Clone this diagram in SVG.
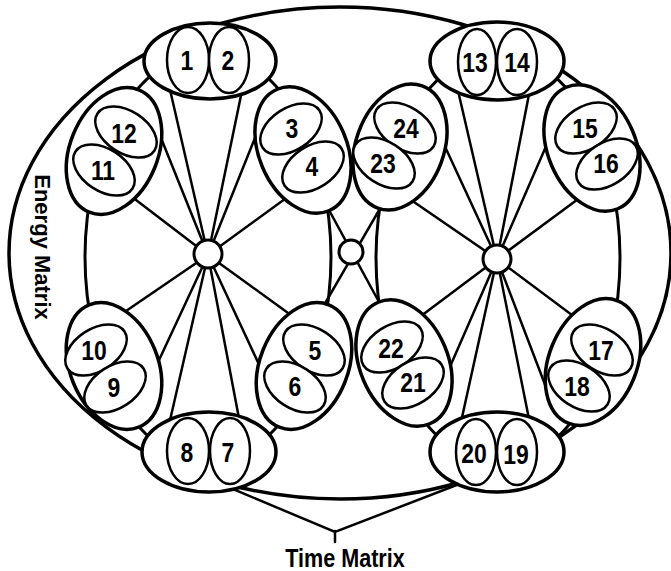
<svg xmlns="http://www.w3.org/2000/svg" width="671" height="571" viewBox="0 0 671 571">
<style>
.em{fill:none;stroke:#000;stroke-width:3.5}
.ring{fill:none;stroke:#000;stroke-width:3}
.sp{fill:none;stroke:#000;stroke-width:2.5;stroke-linecap:round}
.pod{fill:#fff;stroke:#000;stroke-width:3.5}
.in{fill:#fff;stroke:#000;stroke-width:2.5}
.hub{fill:#fff;stroke:#000;stroke-width:3}
.n{font-family:"Liberation Sans",Arial,sans-serif;font-weight:bold;font-size:27px;text-anchor:middle;fill:#000}
.lbl{font-family:"Liberation Sans",Arial,sans-serif;font-weight:bold;text-anchor:middle;fill:#000}
</style>
<rect width="671" height="571" fill="#fff"/>
<g id="energy-matrix">
<ellipse class="em" cx="340" cy="253" rx="331" ry="246"/>
<text class="lbl" font-size="22" transform="translate(35,247) rotate(90)">Energy Matrix</text>
</g>
<g id="connectors">
<ellipse class="ring" cx="208" cy="257" rx="123" ry="205"/>
<ellipse class="ring" cx="498" cy="258" rx="122" ry="205"/>
<path class="sp" d="M208,255L168,81M208,255L244,81M208,255L157,128M208,255L119,187M208,255L263,118M208,255L300,188M208,255L107,324M208,255L146,388M208,255L168,429M208,255L241,429M208,255L270,388M208,255L306,326"/>
<path class="sp" d="M497,259L456,82M497,259L531,84M497,259L435,125M497,259L395,189M497,259L554,128M497,259L593,188M497,259L409,325M497,259L442,385M497,259L459,431M497,259L531,429M497,259L549,395M497,259L588,327"/>
<path class="sp" d="M323,199L385,313M385,200L320,312"/>
<path class="sp" d="M221,484L335,532L467,481M335,531L335,542"/>
</g>
<g id="pod-1-2">
<ellipse class="pod" cx="210" cy="61" rx="66" ry="38"/>
<ellipse class="in" cx="188" cy="60" rx="21" ry="33"/>
<ellipse class="in" cx="229" cy="60" rx="20" ry="33"/>
<text class="n" transform="translate(187,70) scale(0.85,1)">1</text>
<text class="n" transform="translate(228,70) scale(0.85,1)">2</text>
</g>
<g id="pod-3-4">
<ellipse class="pod" rx="44" ry="66" transform="translate(303,150) rotate(-23)"/>
<ellipse class="in" rx="34" ry="21" transform="translate(291,129) rotate(-33)"/>
<ellipse class="in" rx="34" ry="21" transform="translate(313,167) rotate(-33)"/>
<text class="n" transform="translate(292,138) scale(0.85,1)">3</text>
<text class="n" transform="translate(312,176) scale(0.85,1)">4</text>
</g>
<g id="pod-5-6">
<ellipse class="pod" rx="44" ry="66" transform="translate(304,366) rotate(22)"/>
<ellipse class="in" rx="34" ry="21" transform="translate(314,350) rotate(33)"/>
<ellipse class="in" rx="34" ry="21" transform="translate(295,387) rotate(33)"/>
<text class="n" transform="translate(315,360) scale(0.85,1)">5</text>
<text class="n" transform="translate(295,396) scale(0.85,1)">6</text>
</g>
<g id="pod-7-8">
<ellipse class="pod" cx="209" cy="452" rx="67" ry="40"/>
<ellipse class="in" cx="188" cy="451" rx="21" ry="33"/>
<ellipse class="in" cx="230" cy="451" rx="20" ry="33"/>
<text class="n" transform="translate(187,462) scale(0.85,1)">8</text>
<text class="n" transform="translate(228,462) scale(0.85,1)">7</text>
</g>
<g id="pod-9-10">
<ellipse class="pod" rx="44" ry="66" transform="translate(114,366) rotate(-22)"/>
<ellipse class="in" rx="34" ry="21" transform="translate(96,350) rotate(-33)"/>
<ellipse class="in" rx="34" ry="21" transform="translate(115,387) rotate(-33)"/>
<text class="n" transform="translate(94,360) scale(0.85,1)">10</text>
<text class="n" transform="translate(114,397) scale(0.85,1)">9</text>
</g>
<g id="pod-11-12">
<ellipse class="pod" rx="44" ry="66" transform="translate(114,151) rotate(22)"/>
<ellipse class="in" rx="34" ry="21" transform="translate(126,132) rotate(33)"/>
<ellipse class="in" rx="34" ry="21" transform="translate(104,170) rotate(33)"/>
<text class="n" transform="translate(124,143) scale(0.85,1)">12</text>
<text class="n" transform="translate(103,180) scale(0.85,1)">11</text>
</g>
<g id="pod-13-14">
<ellipse class="pod" cx="497" cy="61" rx="67" ry="39"/>
<ellipse class="in" cx="477" cy="62" rx="19" ry="33"/>
<ellipse class="in" cx="517" cy="62" rx="20" ry="33"/>
<text class="n" transform="translate(475,72) scale(0.85,1)">13</text>
<text class="n" transform="translate(517,72) scale(0.85,1)">14</text>
</g>
<g id="pod-15-16">
<ellipse class="pod" rx="44" ry="66" transform="translate(592,148) rotate(-23)"/>
<ellipse class="in" rx="34" ry="21" transform="translate(586,128) rotate(-33)"/>
<ellipse class="in" rx="34" ry="21" transform="translate(607,164) rotate(-33)"/>
<text class="n" transform="translate(585,138) scale(0.85,1)">15</text>
<text class="n" transform="translate(606,173) scale(0.85,1)">16</text>
</g>
<g id="pod-17-18">
<ellipse class="pod" rx="44" ry="66" transform="translate(593,362) rotate(22)"/>
<ellipse class="in" rx="34" ry="21" transform="translate(602,350) rotate(33)"/>
<ellipse class="in" rx="34" ry="21" transform="translate(579,386) rotate(33)"/>
<text class="n" transform="translate(601,360) scale(0.85,1)">17</text>
<text class="n" transform="translate(577,396) scale(0.85,1)">18</text>
</g>
<g id="pod-19-20">
<ellipse class="pod" cx="497" cy="452" rx="67" ry="40"/>
<ellipse class="in" cx="476" cy="452" rx="20" ry="33"/>
<ellipse class="in" cx="517" cy="452" rx="20" ry="33"/>
<text class="n" transform="translate(474,463) scale(0.85,1)">20</text>
<text class="n" transform="translate(516,464) scale(0.85,1)">19</text>
</g>
<g id="pod-21-22">
<ellipse class="pod" rx="44" ry="66" transform="translate(404,363) rotate(-23)"/>
<ellipse class="in" rx="34" ry="21" transform="translate(392,347) rotate(-33)"/>
<ellipse class="in" rx="34" ry="21" transform="translate(413,383) rotate(-33)"/>
<text class="n" transform="translate(391,358) scale(0.85,1)">22</text>
<text class="n" transform="translate(413,392) scale(0.85,1)">21</text>
</g>
<g id="pod-23-24">
<ellipse class="pod" rx="44" ry="65" transform="translate(400,147) rotate(20)"/>
<ellipse class="in" rx="34" ry="21" transform="translate(405,128) rotate(33)"/>
<ellipse class="in" rx="34" ry="21" transform="translate(384,163) rotate(33)"/>
<text class="n" transform="translate(406,138) scale(0.85,1)">24</text>
<text class="n" transform="translate(383,173) scale(0.85,1)">23</text>
</g>
<g id="hub-left"><circle class="hub" cx="208" cy="254" r="14"/></g>
<g id="hub-center"><circle class="hub" cx="351" cy="252" r="12"/></g>
<g id="hub-right"><circle class="hub" cx="497" cy="259" r="14"/></g>
<g id="time-matrix">
<text class="lbl" font-size="26" transform="translate(345,567) scale(0.83,1)">Time Matrix</text>
</g>
</svg>
